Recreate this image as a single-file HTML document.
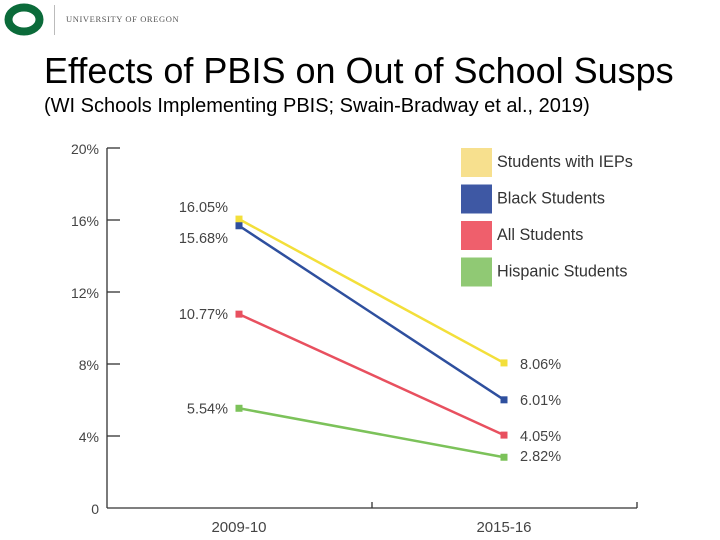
<!DOCTYPE html>
<html><head><meta charset="utf-8"><style>
body{margin:0;background:#fff;width:720px;height:540px;overflow:hidden;position:relative;font-family:"Liberation Sans",sans-serif}
.abs{position:absolute}
</style></head><body>
<div class="abs" style="left:4px;top:3px;width:40px;height:33px">
<svg width="40" height="33"><ellipse cx="20" cy="16.5" rx="15.5" ry="12" fill="none" stroke="#0b6b3a" stroke-width="8"/></svg></div>
<div class="abs" style="left:54px;top:5px;width:1px;height:30px;background:#bbb"></div>
<div class="abs" style="left:66px;top:14px;font-family:'Liberation Serif',serif;font-size:8.5px;letter-spacing:0.6px;color:#555">UNIVERSITY OF OREGON</div>
<div class="abs" style="left:44px;top:50px;font-size:36px;color:#000;white-space:nowrap;letter-spacing:0px">Effects of PBIS on Out of School Susps</div>
<div class="abs" style="left:44px;top:95px;font-size:20px;color:#000;white-space:nowrap">(WI Schools Implementing PBIS; Swain-Bradway et al., 2019)</div>
<svg class="abs" style="left:0;top:0" width="720" height="540" id="chart"></svg>
<script>
const categories=["2009-10","2015-16"];
const seriesNames=["Students with IEPs","Black Students","All Students","Hispanic Students"];
const iepValues=[16.05,8.06];
const blackValues=[15.68,6.01];
const allValues=[10.77,4.05];
const hispValues=[5.54,2.82];
const yTicks=[0,4,8,12,16,20];
const yTickLabels=["0","4%","8%","12%","16%","20%"];
const lineColors=["#f3df3a","#2e4f9e","#e8505f","#7cc25a"];
const boxColors=["#f7e08e","#3e58a4","#ef5f6c","#90c974"];
const svg=document.getElementById('chart');
const NS="http://www.w3.org/2000/svg";
function y(v){return 508-v*18;}
function x(i){return 239+i*265;}
function mk(t,a,p){const e=document.createElementNS(NS,t);for(const k in a)e.setAttribute(k,a[k]);(p||svg).appendChild(e);return e;}
const f="Liberation Sans, sans-serif";
let e=mk('line',{x1:107,y1:148,x2:107,y2:508,stroke:'#333','stroke-width':1.3});

e=mk('line',{x1:107,y1:508,x2:637,y2:508,stroke:'#333','stroke-width':1.3});

[372,637].forEach(tx=>{const t=mk('line',{x1:tx,y1:508,x2:tx,y2:502,stroke:'#333','stroke-width':1.3});
});
yTicks.forEach((v,i)=>{
  if(v>0){const t=mk('line',{x1:107,y1:y(v),x2:120,y2:y(v),stroke:'#333','stroke-width':1.3});
  }
  const l=mk('text',{x:99,y:y(v)+6,'text-anchor':'end','font-size':14,fill:'#444','font-family':f});
  l.textContent=yTickLabels[i];
  
});
categories.forEach((c,i)=>{const l=mk('text',{x:x(i),y:532,'text-anchor':'middle','font-size':15,fill:'#444','font-family':f});
l.textContent=c;});
const all=[iepValues,blackValues,allValues,hispValues];
const labelOffL=[-12,12,0,0];
const labelOffR=[1,0,1,-1];
all.forEach((vals,s)=>{
  const ln=mk('line',{x1:x(0),y1:y(vals[0]),x2:x(1),y2:y(vals[1]),stroke:lineColors[s],'stroke-width':2.5});
  
  vals.forEach((v,i)=>{
    const m=mk('rect',{x:x(i)-3.5,y:y(v)-3.5,width:7,height:7,fill:lineColors[s]});
    
    const t=mk('text',{x:i==0?x(i)-11:x(i)+16,y:y(v)+5+(i==0?labelOffL[s]:labelOffR[s]),'text-anchor':i==0?'end':'start','font-size':14.5,fill:'#444','font-family':f});
    t.textContent=v.toFixed(2)+'%';
    
  });
});
seriesNames.forEach((n,s)=>{
  const by=148+s*36.5;
  const b=mk('rect',{x:461,y:by,width:31,height:29,fill:boxColors[s]});
  
  const t=mk('text',{x:497,y:by+19,'font-size':16.2,fill:'#333','font-family':f});
  t.textContent=n;
});
</script>
</body></html>
